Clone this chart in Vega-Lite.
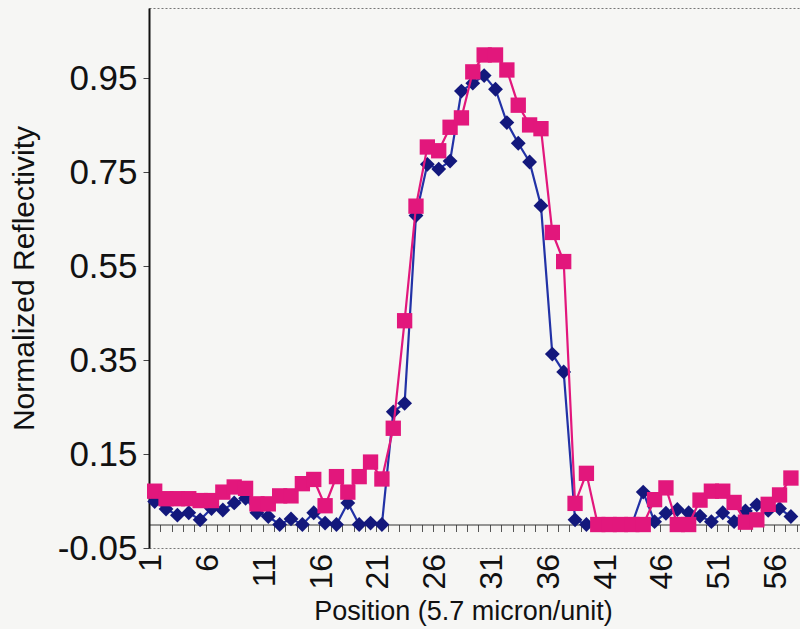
{
  "$schema": "https://vega.github.io/schema/vega-lite/v6.json",
  "width": 651,
  "height": 540,
  "autosize": "none",
  "padding": {"left": 149, "top": 8, "right": 0, "bottom": 81},
  "background": "#f6f6f4",
  "config": {
    "font": "Liberation Sans",
    "view": {"stroke": "#777777", "strokeDash": [2, 2], "strokeWidth": 1}
  },
  "datasets": {
    "scan_a": [
      {"position": 1, "reflectivity": 0.049},
      {"position": 2, "reflectivity": 0.033},
      {"position": 3, "reflectivity": 0.020},
      {"position": 4, "reflectivity": 0.025},
      {"position": 5, "reflectivity": 0.010},
      {"position": 6, "reflectivity": 0.034},
      {"position": 7, "reflectivity": 0.031},
      {"position": 8, "reflectivity": 0.046},
      {"position": 9, "reflectivity": 0.056},
      {"position": 10, "reflectivity": 0.025},
      {"position": 11, "reflectivity": 0.017},
      {"position": 12, "reflectivity": 0.000},
      {"position": 13, "reflectivity": 0.012},
      {"position": 14, "reflectivity": 0.000},
      {"position": 15, "reflectivity": 0.025},
      {"position": 16, "reflectivity": 0.003},
      {"position": 17, "reflectivity": 0.000},
      {"position": 18, "reflectivity": 0.046},
      {"position": 19, "reflectivity": 0.000},
      {"position": 20, "reflectivity": 0.003},
      {"position": 21, "reflectivity": 0.000},
      {"position": 22, "reflectivity": 0.240},
      {"position": 23, "reflectivity": 0.258},
      {"position": 24, "reflectivity": 0.658},
      {"position": 25, "reflectivity": 0.767},
      {"position": 26, "reflectivity": 0.757},
      {"position": 27, "reflectivity": 0.774},
      {"position": 28, "reflectivity": 0.923},
      {"position": 29, "reflectivity": 0.940},
      {"position": 30, "reflectivity": 0.956},
      {"position": 31, "reflectivity": 0.927},
      {"position": 32, "reflectivity": 0.856},
      {"position": 33, "reflectivity": 0.812},
      {"position": 34, "reflectivity": 0.772},
      {"position": 35, "reflectivity": 0.679},
      {"position": 36, "reflectivity": 0.363},
      {"position": 37, "reflectivity": 0.325},
      {"position": 38, "reflectivity": 0.010},
      {"position": 39, "reflectivity": 0.000},
      {"position": 40, "reflectivity": 0.000},
      {"position": 41, "reflectivity": 0.000},
      {"position": 42, "reflectivity": 0.000},
      {"position": 43, "reflectivity": 0.000},
      {"position": 44, "reflectivity": 0.069},
      {"position": 45, "reflectivity": 0.006},
      {"position": 46, "reflectivity": 0.024},
      {"position": 47, "reflectivity": 0.032},
      {"position": 48, "reflectivity": 0.025},
      {"position": 49, "reflectivity": 0.018},
      {"position": 50, "reflectivity": 0.006},
      {"position": 51, "reflectivity": 0.025},
      {"position": 52, "reflectivity": 0.006},
      {"position": 53, "reflectivity": 0.029},
      {"position": 54, "reflectivity": 0.042},
      {"position": 55, "reflectivity": 0.030},
      {"position": 56, "reflectivity": 0.034},
      {"position": 57, "reflectivity": 0.017}
    ],
    "scan_b": [
      {"position": 1, "reflectivity": 0.071},
      {"position": 2, "reflectivity": 0.055},
      {"position": 3, "reflectivity": 0.055},
      {"position": 4, "reflectivity": 0.055},
      {"position": 5, "reflectivity": 0.051},
      {"position": 6, "reflectivity": 0.051},
      {"position": 7, "reflectivity": 0.069},
      {"position": 8, "reflectivity": 0.080},
      {"position": 9, "reflectivity": 0.077},
      {"position": 10, "reflectivity": 0.044},
      {"position": 11, "reflectivity": 0.044},
      {"position": 12, "reflectivity": 0.061},
      {"position": 13, "reflectivity": 0.061},
      {"position": 14, "reflectivity": 0.087},
      {"position": 15, "reflectivity": 0.096},
      {"position": 16, "reflectivity": 0.040},
      {"position": 17, "reflectivity": 0.102},
      {"position": 18, "reflectivity": 0.069},
      {"position": 19, "reflectivity": 0.102},
      {"position": 20, "reflectivity": 0.133},
      {"position": 21, "reflectivity": 0.097},
      {"position": 22, "reflectivity": 0.205},
      {"position": 23, "reflectivity": 0.434},
      {"position": 24, "reflectivity": 0.678},
      {"position": 25, "reflectivity": 0.804},
      {"position": 26, "reflectivity": 0.796},
      {"position": 27, "reflectivity": 0.846},
      {"position": 28, "reflectivity": 0.866},
      {"position": 29, "reflectivity": 0.964},
      {"position": 30, "reflectivity": 1.000},
      {"position": 31, "reflectivity": 1.000},
      {"position": 32, "reflectivity": 0.968},
      {"position": 33, "reflectivity": 0.893},
      {"position": 34, "reflectivity": 0.851},
      {"position": 35, "reflectivity": 0.843},
      {"position": 36, "reflectivity": 0.622},
      {"position": 37, "reflectivity": 0.560},
      {"position": 38, "reflectivity": 0.045},
      {"position": 39, "reflectivity": 0.109},
      {"position": 40, "reflectivity": 0.000},
      {"position": 41, "reflectivity": 0.000},
      {"position": 42, "reflectivity": 0.000},
      {"position": 43, "reflectivity": 0.000},
      {"position": 44, "reflectivity": 0.000},
      {"position": 45, "reflectivity": 0.053},
      {"position": 46, "reflectivity": 0.078},
      {"position": 47, "reflectivity": 0.000},
      {"position": 48, "reflectivity": 0.000},
      {"position": 49, "reflectivity": 0.052},
      {"position": 50, "reflectivity": 0.071},
      {"position": 51, "reflectivity": 0.071},
      {"position": 52, "reflectivity": 0.047},
      {"position": 53, "reflectivity": 0.005},
      {"position": 54, "reflectivity": 0.010},
      {"position": 55, "reflectivity": 0.043},
      {"position": 56, "reflectivity": 0.063},
      {"position": 57, "reflectivity": 0.099}
    ]
  },
  "encoding": {
    "x": {
      "field": "position",
      "type": "quantitative",
      "scale": {"domain": [0.5, 57.8], "nice": false, "zero": false},
      "axis": {
        "title": "Position (5.7 micron/unit)",
        "offset": -23.5,
        "values": [0.5, 1, 1.5, 2.5, 3.5, 4.5, 5.5, 6, 6.5, 7.5, 8.5, 9.5, 10.5, 11, 11.5, 12.5, 13.5, 14.5, 15.5, 16, 16.5, 17.5, 18.5, 19.5, 20.5, 21, 21.5, 22.5, 23.5, 24.5, 25.5, 26, 26.5, 27.5, 28.5, 29.5, 30.5, 31, 31.5, 32.5, 33.5, 34.5, 35.5, 36, 36.5, 37.5, 38.5, 39.5, 40.5, 41, 41.5, 42.5, 43.5, 44.5, 45.5, 46, 46.5, 47.5, 48.5, 49.5, 50.5, 51, 51.5, 52.5, 53.5, 54.5, 55.5, 56, 56.5, 57.5],
        "labelExpr": "datum.value % 1 === 0 ? format(datum.value, 'd') : ''",
        "tickOpacity": {"condition": {"test": "datum.value % 1 === 0", "value": 0}, "value": 1},
        "tickSize": 7,
        "tickColor": "#555555",
        "tickWidth": 1,
        "domainColor": "#333333",
        "domainWidth": 1,
        "grid": false,
        "labelAngle": -90,
        "labelPadding": 22,
        "labelOffset": -4,
        "labelFontSize": 32,
        "labelColor": "#111111",
        "labelOverlap": false,
        "labelFlush": false,
        "titleFontSize": 27,
        "titleFontWeight": "normal",
        "titleColor": "#111111",
        "titlePadding": 9,
        "titleX": 314
      }
    },
    "y": {
      "field": "reflectivity",
      "type": "quantitative",
      "scale": {"domain": [-0.05, 1.1], "nice": false, "zero": false},
      "axis": {
        "title": "Normalized Reflectivity",
        "values": [-0.05, 0.15, 0.35, 0.55, 0.75, 0.95],
        "labelExpr": "datum.value < 0 ? '-' + format(-datum.value, '.2f') : format(datum.value, '.2f')",
        "domainColor": "#111111",
        "domainWidth": 2,
        "tickColor": "#444444",
        "tickSize": 6,
        "grid": false,
        "labelFontSize": 35,
        "labelPadding": 6,
        "labelFlush": false,
        "labelColor": "#111111",
        "titleFontSize": 30,
        "titleFontWeight": "normal",
        "titleColor": "#111111",
        "titlePadding": 18
      }
    }
  },
  "layer": [
    {"data": {"name": "scan_a"}, "mark": {"type": "line", "color": "#2232a6", "strokeWidth": 2.2}},
    {"data": {"name": "scan_a"}, "mark": {"type": "point", "shape": "diamond", "filled": true, "size": 220, "color": "#13187c", "opacity": 1}},
    {"data": {"name": "scan_b"}, "mark": {"type": "line", "color": "#e2177c", "strokeWidth": 2.2}},
    {"data": {"name": "scan_b"}, "mark": {"type": "point", "shape": "square", "filled": true, "size": 235, "color": "#e2177c", "opacity": 1}}
  ]
}
